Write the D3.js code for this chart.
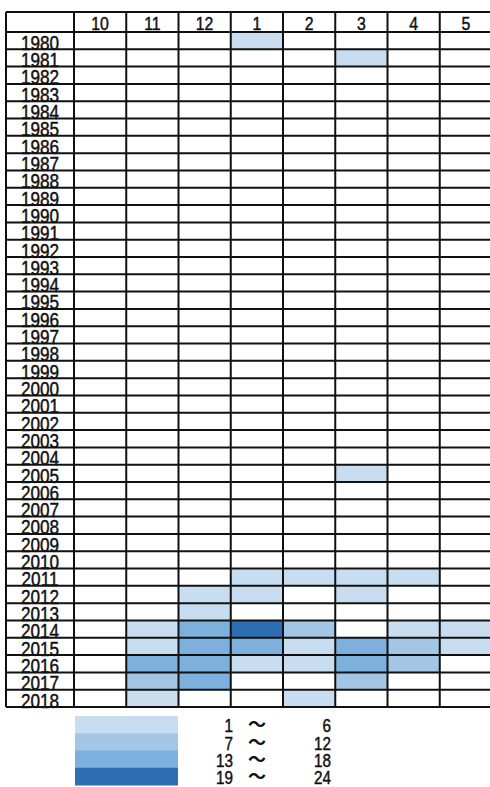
<!DOCTYPE html>
<html><head><meta charset="utf-8">
<script src="https://cdn.jsdelivr.net/npm/d3@7"></script>
<style>
html,body{margin:0;padding:0;background:#fff;overflow:hidden;}
svg{display:block;}
text{font-family:"Liberation Sans",Arial,sans-serif;fill:#111;stroke:#111;stroke-width:0.45px;}
</style></head>
<body>
<script>
const years = d3.range(1980, 2019).map(String);
const months = ["10","11","12","1","2","3","4","5"];
// non-empty cells: [year, month, class level (1..4)]
const cells = [
  ["1980","1",1],
  ["1981","3",1],
  ["2005","3",1],
  ["2011","1",1],["2011","2",1],["2011","3",1],["2011","4",1],
  ["2012","12",1],["2012","1",1],["2012","3",1],
  ["2013","12",1],
  ["2014","11",1],["2014","12",3],["2014","1",4],["2014","2",2],["2014","4",1],["2014","5",1],
  ["2015","11",1],["2015","12",3],["2015","1",3],["2015","2",1],["2015","3",3],["2015","4",2],["2015","5",1],
  ["2016","11",3],["2016","12",3],["2016","1",1],["2016","2",1],["2016","3",3],["2016","4",2],
  ["2017","11",2],["2017","12",3],["2017","3",2],
  ["2018","11",1],["2018","2",1]
];
const legendFrom = ["1","7","13","19"];
const legendTo = ["6","12","18","24"];
const levels = [1,2,3,4];
const palette = ["#c8def0","#a3c6e5","#7db0dc","#2d6db3"];

(function(){
const W = 490, H = 787;
const svg = d3.select("body").append("svg").attr("width", W).attr("height", H);

const gLeft = 6, labelRight = 74, gRight = 492, gTop = 12, headBottom = 32, gBottom = 707;
const x = d3.scaleBand().domain(months).range([labelRight, gRight]);
const y = d3.scaleBand().domain(years).range([headBottom, gBottom]);
const color = d3.scaleOrdinal().domain(levels).range(palette);

// cells
svg.append("g").selectAll("rect").data(cells).join("rect")
  .attr("x", d => x(d[1])).attr("y", d => y(d[0]))
  .attr("width", x.bandwidth()).attr("height", y.bandwidth())
  .attr("fill", d => color(d[2]));

// grid lines
const g = svg.append("g").attr("stroke", "#111").attr("stroke-width", 2);
const vx = [gLeft, labelRight].concat(months.map(m => x(m) + x.bandwidth()));
g.selectAll("line.v").data(vx).join("line").attr("class","v")
  .attr("x1", d => d).attr("x2", d => d).attr("y1", gTop).attr("y2", gBottom);
const hy = [gTop, headBottom].concat(years.map(yy => y(yy) + y.bandwidth()));
g.selectAll("line.h").data(hy).join("line").attr("class","h")
  .attr("x1", gLeft).attr("x2", gRight).attr("y1", d => d).attr("y2", d => d);

// header labels
svg.append("g").selectAll("text").data(months).join("text")
  .attr("transform", d => `translate(${x(d) + x.bandwidth()/2},30) scale(0.88,1)`)
  .attr("text-anchor","middle").attr("font-size", 18).text(d => d);

// year labels
svg.append("g").selectAll("text").data(years).join("text")
  .attr("transform", d => `translate(${(gLeft+labelRight)/2},${y(d) + y.bandwidth() + 0.5}) scale(0.88,1)`)
  .attr("text-anchor","middle").attr("font-size", 19.5).text(d => d);

// legend
const ly = d3.scaleBand().domain(levels).range([716, 785]);
const lg = svg.append("g");
lg.selectAll("rect").data(levels).join("rect")
  .attr("x", 75).attr("width", 103)
  .attr("y", d => ly(d)).attr("height", ly.bandwidth() + 0.5)
  .attr("fill", d => color(d));
const base = d => ly(d) + ly.bandwidth() - 1;
lg.selectAll("text.from").data(levels).join("text").attr("class","from")
  .attr("transform", d => `translate(233,${base(d)}) scale(0.87,1)`)
  .attr("text-anchor","end").attr("font-size", 17.5).text((d,i) => legendFrom[i]);
lg.selectAll("text.tilde").data(levels).join("text").attr("class","tilde")
  .attr("x", 257).attr("y", d => base(d) - 1)
  .attr("text-anchor","middle").attr("font-size", 18).attr("font-weight","bold")
  .style("font-family","'Noto Sans CJK JP',sans-serif").style("stroke-width","0").text("～");
lg.selectAll("text.to").data(levels).join("text").attr("class","to")
  .attr("transform", d => `translate(331,${base(d)}) scale(0.87,1)`)
  .attr("text-anchor","end").attr("font-size", 17.5).text((d,i) => legendTo[i]);
})();
</script>
</body></html>
